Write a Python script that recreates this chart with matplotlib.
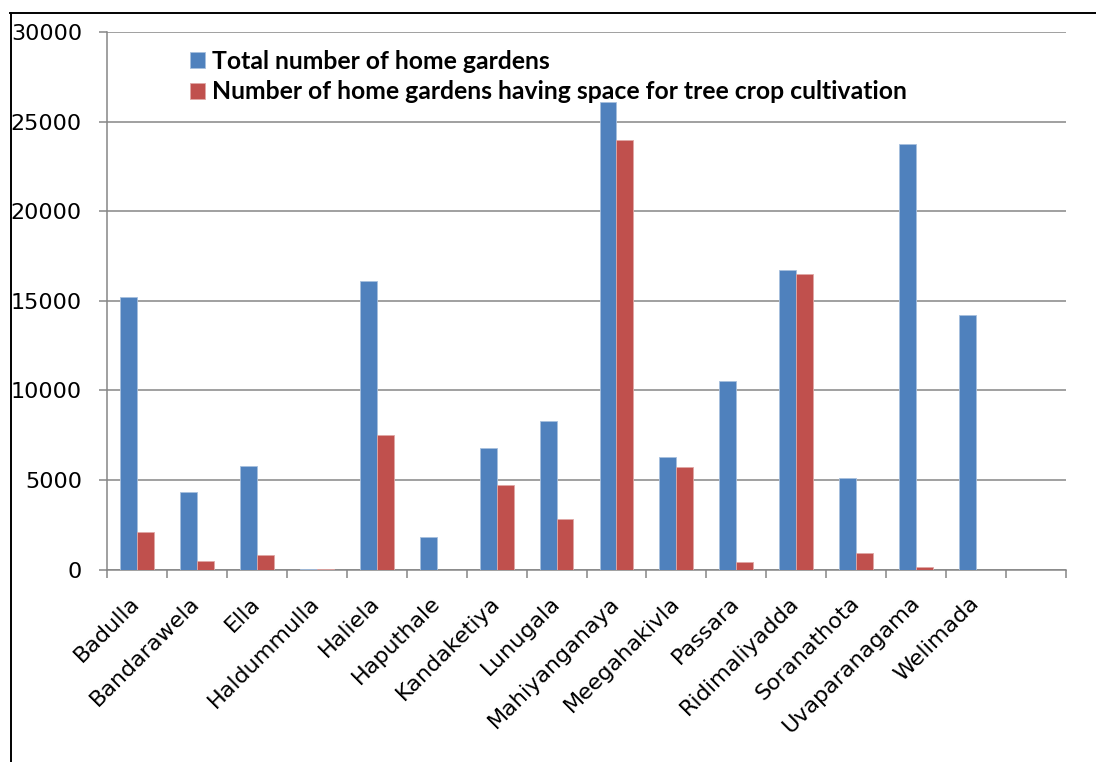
import numpy as np
import matplotlib
matplotlib.use('Agg')
import matplotlib.pyplot as plt
from matplotlib.lines import Line2D

# data
districts = ['Badulla', 'Bandarawela', 'Ella', 'Haldummulla', 'Haliela', 'Haputhale',
             'Kandaketiya', 'Lunugala', 'Mahiyanganaya', 'Meegahakivla', 'Passara',
             'Ridimaliyadda', 'Soranathota', 'Uvaparanagama', 'Welimada', '']
total_gardens = [15200, 4300, 5800, 40, 16100, 1800, 6800, 8300, 26100, 6300,
                 10500, 16700, 5100, 23750, 14200, np.nan]
tree_space = [2100, 450, 800, 20, 7500, 0, 4700, 2800, 24000, 5700,
              400, 16500, 900, 150, 0, np.nan]
yticks = [0, 5000, 10000, 15000, 20000, 25000, 30000]

plt.rcParams['font.family'] = 'DejaVu Sans'

W, H = 1096, 762
fig = plt.figure(figsize=(W / 100, H / 100), dpi=100)
ax = fig.add_axes([107 / W, (H - 569.5) / H, (1066 - 107) / W, (569.5 - 32) / H])

x = np.arange(len(districts)) + 0.5
bw = 0.283
ax.bar(x - bw / 2, total_gardens, bw, color='#4F81BD', edgecolor='#A7C0DE',
       linewidth=0.6, label='Total number of home gardens', zorder=3)
ax.bar(x + bw / 2, tree_space, bw, color='#C0504D', edgecolor='#E0A8A6',
       linewidth=0.6, label='Number of home gardens having space for tree crop cultivation',
       zorder=3)

ax.set_xlim(0, len(districts))
ax.set_ylim(0, 30000)
ax.set_yticks(yticks)
ax.set_yticklabels([str(v) for v in yticks])
ax.yaxis.grid(True, color='#868686', linewidth=1.1, zorder=0)
ax.set_axisbelow(True)

ax.set_xticks(x)
ax.set_xticklabels(districts, rotation=45, ha='right', va='center', rotation_mode='anchor')
ax.set_xticks(np.arange(len(districts) + 1), minor=True)
ax.tick_params(axis='x', which='major', length=0, pad=22, labelsize=16)
ax.tick_params(axis='x', which='minor', length=6, width=1.1, color='#868686')
ax.tick_params(axis='y', length=6, width=1.1, color='#868686', pad=12, labelsize=16)

for s in ['top', 'right']:
    ax.spines[s].set_visible(False)
for s in ['left', 'bottom']:
    ax.spines[s].set_color('#868686')
    ax.spines[s].set_linewidth(1.1)

leg = ax.legend(loc='upper left', bbox_to_anchor=(61 / (1066 - 107), 1.008),
                frameon=False, handlelength=0.6, handleheight=0.6,
                handletextpad=0.3, labelspacing=0.3,
                prop={'family': 'Lato', 'weight': 'bold', 'size': 17.8})

# outer frame (left and top edges visible)
fig.add_artist(Line2D([10.5 / W, 10.5 / W], [0, (H - 13) / H], color='black', linewidth=1.4))
fig.add_artist(Line2D([10 / W, 1], [(H - 13) / H, (H - 13) / H], color='black', linewidth=1.4))

fig.savefig('out.png', dpi=100)
